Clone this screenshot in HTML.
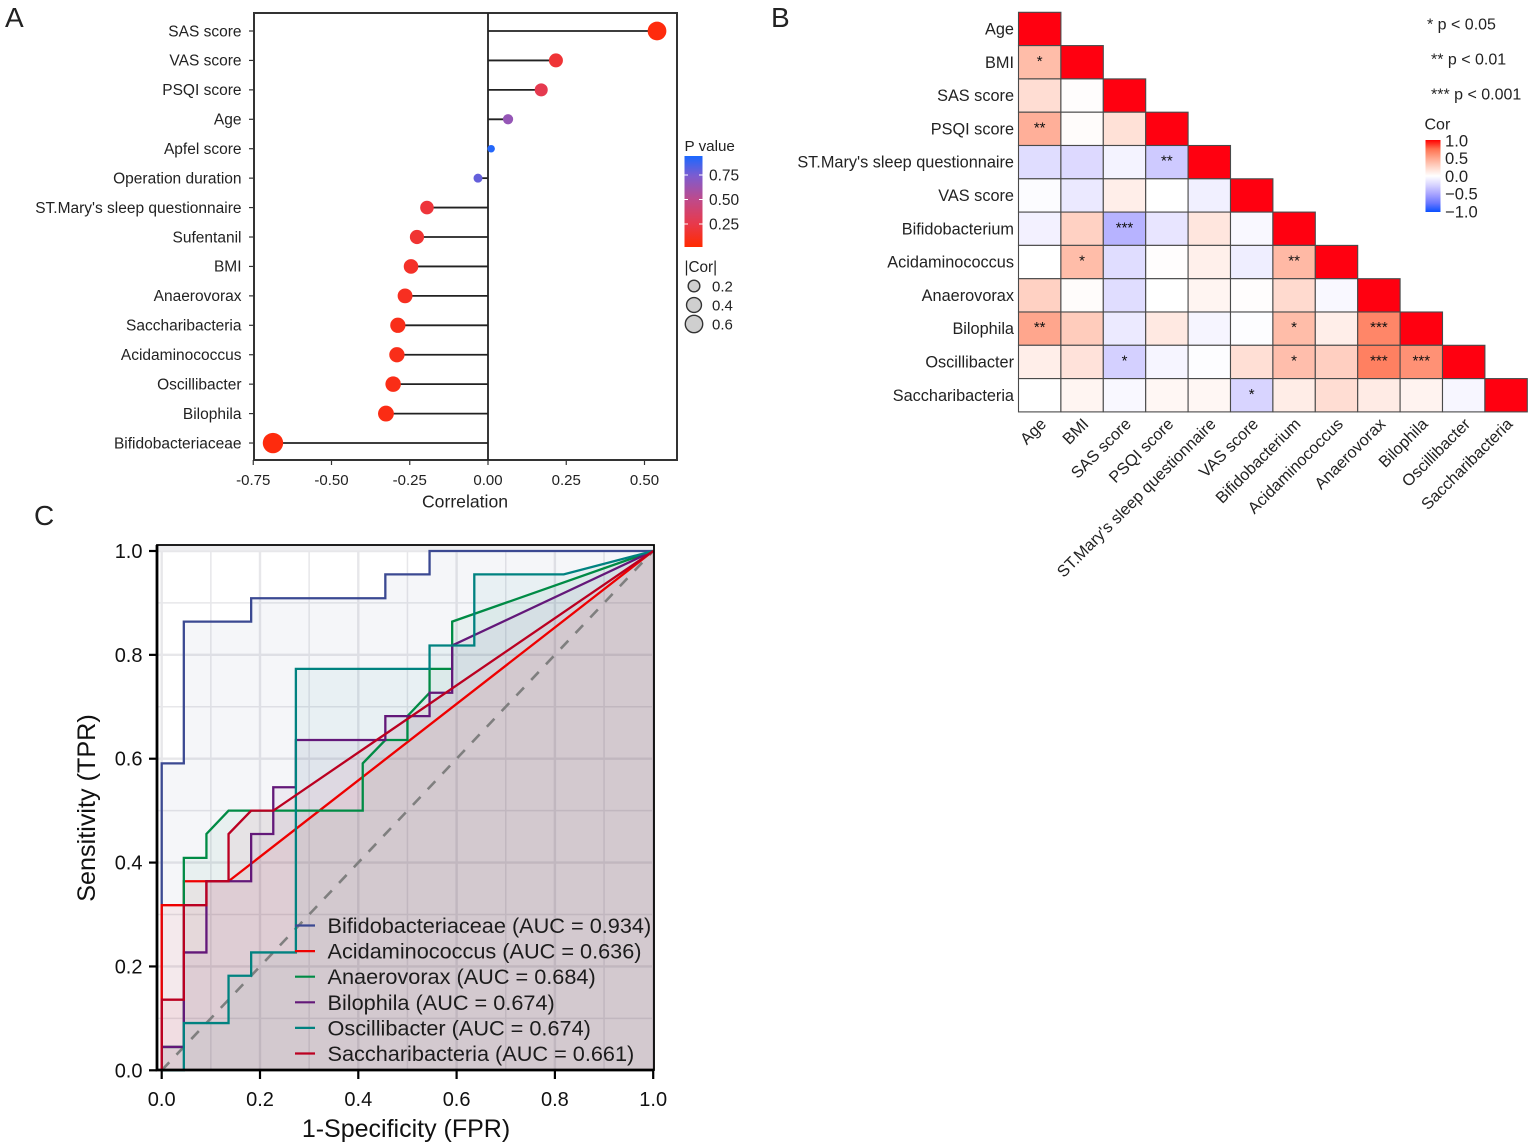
<!DOCTYPE html>
<html lang="en">
<head>
<meta charset="utf-8">
<title>Correlation and ROC analysis</title>
<style>
html,body{margin:0;padding:0;background:#fff;width:1535px;height:1148px;overflow:hidden}
svg{display:block;filter:blur(0.35px)}
text{font-family:"Liberation Sans",Arial,sans-serif;fill:#222}
</style>
</head>
<body>
<svg id="figure" xmlns="http://www.w3.org/2000/svg" width="1535" height="1148" viewBox="0 0 1535 1148">
<defs>
<linearGradient id="pGrad" x1="0" y1="1" x2="0" y2="0">
<stop offset="0" stop-color="#ff2a00"/>
<stop offset="0.25" stop-color="#e8394a"/>
<stop offset="0.52" stop-color="#bf4a8a"/>
<stop offset="0.78" stop-color="#7d5ccf"/>
<stop offset="1" stop-color="#1a68ff"/>
</linearGradient>
<linearGradient id="corGrad" x1="0" y1="1" x2="0" y2="0">
<stop offset="0" stop-color="#0a50ff"/>
<stop offset="0.125" stop-color="#6c78ff"/>
<stop offset="0.25" stop-color="#a8a4ff"/>
<stop offset="0.375" stop-color="#d8d4ff"/>
<stop offset="0.5" stop-color="#ffffff"/>
<stop offset="0.625" stop-color="#ffd5c8"/>
<stop offset="0.75" stop-color="#ffa68d"/>
<stop offset="0.875" stop-color="#ff7150"/>
<stop offset="1" stop-color="#ff0000"/>
</linearGradient>
</defs>
<text x="5" y="27" font-size="28">A</text>
<text x="771" y="27" font-size="28">B</text>
<text x="34" y="525" font-size="28">C</text>
<g id="panelA"></g>
<g id="panelB"></g>
<g id="panelC"></g>
</svg>
<script>
// ---------- Panel A data ----------
const lolliCategories = ["SAS score","VAS score","PSQI score","Age","Apfel score","Operation duration","ST.Mary's sleep questionnaire","Sufentanil","BMI","Anaerovorax","Saccharibacteria","Acidaminococcus","Oscillibacter","Bilophila","Bifidobacteriaceae"];
const lolliCorrelation = [0.54,0.217,0.17,0.064,0.01,-0.032,-0.195,-0.227,-0.246,-0.265,-0.288,-0.291,-0.303,-0.326,-0.687];
const lolliPValues = [0.01,0.17,0.27,0.66,0.93,0.8,0.19,0.16,0.12,0.09,0.06,0.06,0.05,0.04,0.01];
const lolliXTicks = [-0.75,-0.5,-0.25,0,0.25,0.5];
const lolliXTickLabels = ["-0.75","-0.50","-0.25","0.00","0.25","0.50"];
const pLegendTicks = [0.75,0.5,0.25];
const sizeLegendValues = [0.2,0.4,0.6];

// ---------- Panel B data ----------
const heatLabels = ["Age","BMI","SAS score","PSQI score","ST.Mary's sleep questionnaire","VAS score","Bifidobacterium","Acidaminococcus","Anaerovorax","Bilophila","Oscillibacter","Saccharibacteria"];
const heatValues = [
 [1],
 [0.38,1],
 [0.2,0.01,1],
 [0.45,0.02,0.18,1],
 [-0.2,-0.22,-0.07,-0.3,1],
 [-0.02,-0.13,0.1,0,-0.09,1],
 [-0.08,0.27,-0.42,-0.15,0.15,-0.04,1],
 [0,0.38,-0.2,0.01,0.09,-0.1,0.4,1],
 [0.27,0.02,-0.2,0,0.06,0.01,0.22,-0.04,1],
 [0.5,0.3,-0.12,0.13,-0.06,-0.01,0.38,0.1,0.65,1],
 [0.1,0.17,-0.27,-0.06,-0.01,0.19,0.37,0.28,0.68,0.6,1],
 [0,0.06,-0.04,0.05,0.05,-0.25,0.11,0.2,0.12,0.07,-0.05,1]
];
const heatStars = [
 [""],
 ["*",""],
 ["","",""],
 ["**","","",""],
 ["","","","**",""],
 ["","","","","",""],
 ["","","***","","","",""],
 ["","*","","","","","**",""],
 ["","","","","","","","",""],
 ["**","","","","","","*","","***",""],
 ["","","*","","","","*","","***","***",""],
 ["","","","","","*","","","","","",""]
];
const corLegendTicks = [1,0.5,0,-0.5,-1];
const corLegendLabels = ["1.0","0.5","0.0","\u22120.5","\u22121.0"];
const pNotes = ["* p < 0.05","** p < 0.01","*** p < 0.001"];

// ---------- Panel C data ----------
const rocNames = ["Bifidobacteriaceae","Acidaminococcus","Anaerovorax","Bilophila","Oscillibacter","Saccharibacteria"];
const rocAuc = ["0.934","0.636","0.684","0.674","0.674","0.661"];
const bifidoFpr = [0,0,0.045,0.045,0.182,0.182,0.455,0.455,0.545,0.545,1];
const bifidoTpr = [0,0.591,0.591,0.864,0.864,0.909,0.909,0.955,0.955,1,1];
const acidFpr = [0,0,0.045,0.045,0.136,1];
const acidTpr = [0,0.318,0.318,0.364,0.364,1];
const anaeroFpr = [0,0,0.045,0.045,0.091,0.091,0.136,0.409,0.409,0.455,0.5,0.5,0.545,0.545,0.591,0.591,1];
const anaeroTpr = [0,0.045,0.045,0.409,0.409,0.455,0.5,0.5,0.591,0.636,0.636,0.682,0.727,0.773,0.773,0.864,1];
const biloFpr = [0,0,0.045,0.045,0.091,0.091,0.182,0.182,0.227,0.227,0.273,0.273,0.455,0.455,0.545,0.545,0.591,0.591,1];
const biloTpr = [0,0.045,0.045,0.227,0.227,0.364,0.364,0.455,0.455,0.545,0.545,0.636,0.636,0.682,0.682,0.727,0.727,0.818,1];
const osciFpr = [0,0.045,0.045,0.136,0.136,0.182,0.182,0.273,0.273,0.545,0.545,0.636,0.636,0.818,1];
const osciTpr = [0,0,0.091,0.091,0.182,0.182,0.227,0.227,0.773,0.773,0.818,0.818,0.955,0.955,1];
const sacchFpr = [0,0,0.045,0.045,0.091,0.091,0.136,0.136,0.182,0.227,1];
const sacchTpr = [0,0.136,0.136,0.318,0.318,0.364,0.364,0.455,0.5,0.5,1];
const rocTicks = [0,0.2,0.4,0.6,0.8,1];
const rocTickLabels = ["0.0","0.2","0.4","0.6","0.8","1.0"];
const rocGrid = [0,0.1,0.2,0.3,0.4,0.5,0.6,0.7,0.8,0.9,1];

const NS = "http://www.w3.org/2000/svg";
function make(parent, tag, attrs, txt){
  const e = document.createElementNS(NS, tag);
  for (const k in attrs) e.setAttribute(k, attrs[k]);
  if (txt !== undefined) e.textContent = txt;
  parent.appendChild(e);
  return e;
}
function mix(stops, t){
  for (let i = 1; i < stops.length; i++){
    if (t <= stops[i][0]){
      const a = stops[i-1], b = stops[i], f = (t-a[0])/(b[0]-a[0]);
      const c = [0,1,2].map(j => Math.round(a[1][j]+(b[1][j]-a[1][j])*f));
      return "rgb("+c.join(",")+")";
    }
  }
  const l = stops[stops.length-1][1];
  return "rgb("+l.join(",")+")";
}

// ---------- Panel A ----------
(function(){
  const g = document.getElementById("panelA");
  const xA = v => 488 + v*313;
  const yA = i => 31 + i*29.43;
  const rA = c => 2.9 + 8.8*Math.sqrt(Math.abs(c));
  const pStops = [[0,[255,42,10]],[0.25,[232,57,74]],[0.5,[191,74,138]],[0.75,[125,92,207]],[0.95,[26,104,255]]];
  const frame = make(g,"rect",{x:254,y:13,width:423,height:447,fill:"#fff",stroke:"#333","stroke-width":2});
  
  
  const zero = make(g,"line",{x1:xA(0),x2:xA(0),y1:13,y2:460,stroke:"#222","stroke-width":1.8});
  
  
  lolliCategories.forEach((name,i)=>{
    const tick = make(g,"line",{x1:249,x2:254,y1:yA(i),y2:yA(i),stroke:"#333","stroke-width":1.2});
    
    
    const lab = make(g,"text",{x:241.5,y:yA(i)+5.3,"font-size":15.5,"text-anchor":"end"},name);
    
    
    const stem = make(g,"line",{x1:xA(0),x2:xA(lolliCorrelation[i]),y1:yA(i),y2:yA(i),stroke:"#222","stroke-width":1.8});
    
    
    const dot = make(g,"circle",{cx:xA(lolliCorrelation[i]),cy:yA(i),r:rA(lolliCorrelation[i]),fill:mix(pStops,lolliPValues[i])});
    
    
  });
  lolliXTicks.forEach((v,i)=>{
    const tick = make(g,"line",{x1:xA(v),x2:xA(v),y1:460,y2:465,stroke:"#333","stroke-width":1.2});
    
    
    const lab = make(g,"text",{x:xA(v),y:485,"font-size":15,"text-anchor":"middle"},lolliXTickLabels[i]);
    
    
  });
  const xt = make(g,"text",{x:465,y:507.5,"font-size":17.6,"text-anchor":"middle"},"Correlation");
  
  
  const pt = make(g,"text",{x:684.5,y:151,"font-size":15.2},"P value");
  
  
  const bar = make(g,"rect",{x:684.5,y:156,width:18,height:91,fill:"url(#pGrad)"});
  
  
  pLegendTicks.forEach(v=>{
    const y = 248.5 - v*98;
    const t1 = make(g,"line",{x1:684.5,x2:688,y1:y,y2:y,stroke:"#fff","stroke-width":1});
    
    
    const t2 = make(g,"line",{x1:699,x2:702.5,y1:y,y2:y,stroke:"#fff","stroke-width":1});
    
    
    const lab = make(g,"text",{x:709,y:y+5.3,"font-size":15.5},v.toFixed(2));
    
    
  });
  const st = make(g,"text",{x:684.5,y:272,"font-size":15.3},"|Cor|");
  
  
  sizeLegendValues.forEach((v,i)=>{
    const y = 286 + i*19;
    const c = make(g,"circle",{cx:694,cy:y,r:rA(v)-1,fill:"#cfcfcf",stroke:"#333","stroke-width":1.4});
    
    
    const lab = make(g,"text",{x:712,y:y+5.3,"font-size":15},v.toFixed(1));
    
    
  });
})();

// ---------- Panel B ----------
(function(){
  const g = document.getElementById("panelB");
  const x0 = 1018.5, y0 = 12.3, cw = 42.4, ch = 33.3;
  const corStops = [[-1,[10,80,255]],[-0.75,[108,120,255]],[-0.5,[168,164,255]],[-0.25,[216,212,255]],[0,[255,255,255]],[0.25,[255,213,200]],[0.5,[255,166,141]],[0.75,[255,113,80]],[0.999,[255,60,40]],[1,[255,0,16]]];
  heatValues.forEach((row,r)=>{
    const lab = make(g,"text",{x:1014,y:y0+ch*(r+0.5)+5.5,"font-size":16.3,"text-anchor":"end"},heatLabels[r]);
    
    
    row.forEach((v,c)=>{
      const cell = make(g,"rect",{x:x0+c*cw,y:y0+r*ch,width:cw,height:ch,fill:mix(corStops,v),stroke:"#4a4a4a","stroke-width":1.1});
      
      
      const s = heatStars[r][c];
      if (s){
        const t = make(g,"text",{x:x0+(c+0.5)*cw,y:y0+(r+0.5)*ch+3.5,"font-size":15,"text-anchor":"middle",style:"fill:#111"},s);
        
        
      }
    });
  });
  heatLabels.forEach((name,c)=>{
    const ax = x0+(c+0.5)*cw+7.5, ay = 425;
    const lab = make(g,"text",{x:ax,y:ay,"font-size":16.3,"text-anchor":"end",transform:"rotate(-45 "+ax+" "+ay+")"},name);
    
    
  });
  const noteX = [1427,1431,1431];
  pNotes.forEach((n,i)=>{
    const t = make(g,"text",{x:noteX[i],y:29.5+i*35,"font-size":16},n);
    
    
  });
  const ct = make(g,"text",{x:1424.5,y:129.5,"font-size":16},"Cor");
  
  
  const bar = make(g,"rect",{x:1425.5,y:140,width:15,height:72,fill:"url(#corGrad)"});
  
  
  corLegendTicks.forEach((v,i)=>{
    const y = 176 - v*35.5;
    const lab = make(g,"text",{x:1445,y:y+5.8,"font-size":16.6},corLegendLabels[i]);
    
    
  });
})();

// ---------- Panel C ----------
(function(){
  const g = document.getElementById("panelC");
  const xC = v => 161.7 + v*491.5;
  const yC = v => 1070.3 - v*519.3;
  const colors = ["#3b4992","#ee0000","#008b45","#631879","#008280","#bb0021"];
  const fprs = [bifidoFpr,acidFpr,anaeroFpr,biloFpr,osciFpr,sacchFpr];
  const tprs = [bifidoTpr,acidTpr,anaeroTpr,biloTpr,osciTpr,sacchTpr];
  const bg = make(g,"rect",{x:157,y:545,width:497,height:525,fill:"#fff"});
  
  
  rocGrid.forEach((v,i)=>{
    const w = i%2===0 ? 2.4 : 1.5, col = "#e7e7ea";
    const gv = make(g,"line",{x1:xC(v),x2:xC(v),y1:545,y2:1070,stroke:col,"stroke-width":w});
    
    
    const gh = make(g,"line",{x1:157,x2:654,y1:yC(v),y2:yC(v),stroke:col,"stroke-width":w});
    
    
  });
  const strip = make(g,"rect",{x:157,y:545,width:497,height:5.5,fill:"#eeeef0"});
  
  
  fprs.forEach((fx,k)=>{
    let d = "";
    fx.forEach((v,i)=>{ d += xC(v)+","+yC(tprs[k][i])+" "; });
    const area = make(g,"polygon",{points:d+xC(1)+","+yC(0)+" "+xC(0)+","+yC(0),fill:colors[k],"fill-opacity":0.05,stroke:"none"});
    
    
  });
  const dia = make(g,"line",{x1:xC(0),y1:yC(0),x2:xC(1),y2:yC(1),stroke:"#7f7f7f","stroke-width":2.6,"stroke-dasharray":"11 10.5"});
  
  
  fprs.forEach((fx,k)=>{
    let d = "";
    fx.forEach((v,i)=>{ d += xC(v)+","+yC(tprs[k][i])+" "; });
    const curve = make(g,"polyline",{points:d,fill:"none",stroke:colors[k],"stroke-width":2.3,"stroke-linejoin":"miter"});
    
    
  });
  rocNames.forEach((n,i)=>{
    const y = 925.5 + i*25.6;
    const key = make(g,"line",{x1:295,x2:315,y1:y,y2:y,stroke:colors[i],"stroke-width":2.2});
    
    
    const t = make(g,"text",{x:327.5,y:y+7.5,"font-size":21.7,style:"fill:#1c1c1c"},n+" (AUC = "+rocAuc[i]+")");
    
    
  });
  const frame = make(g,"path",{d:"M157 1070V545H654V1070Z",fill:"none",stroke:"#000","stroke-width":1.8});
  
  
  const ax = make(g,"path",{d:"M157 545V1070H654",fill:"none",stroke:"#000","stroke-width":2.8});
  
  
  rocTicks.forEach((v,i)=>{
    const tx = make(g,"line",{x1:xC(v),x2:xC(v),y1:1070,y2:1079,stroke:"#000","stroke-width":2.2});
    
    
    const lx = make(g,"text",{x:xC(v),y:1106,"font-size":20,"text-anchor":"middle",style:"fill:#111"},rocTickLabels[i]);
    
    
    const ty = make(g,"line",{x1:149,x2:157,y1:yC(v),y2:yC(v),stroke:"#000","stroke-width":2.2});
    
    
    const ly = make(g,"text",{x:142.5,y:yC(v)+7,"font-size":20,"text-anchor":"end",style:"fill:#111"},rocTickLabels[i]);
    
    
  });
  const xt = make(g,"text",{x:406,y:1137,"font-size":25,"text-anchor":"middle",style:"fill:#111"},"1-Specificity (FPR)");
  
  
  const yt = make(g,"text",{x:95,y:808,"font-size":25.2,"text-anchor":"middle",transform:"rotate(-90 95 808)",style:"fill:#111"},"Sensitivity (TPR)");
  
  
})();
</script>
</body>
</html>
